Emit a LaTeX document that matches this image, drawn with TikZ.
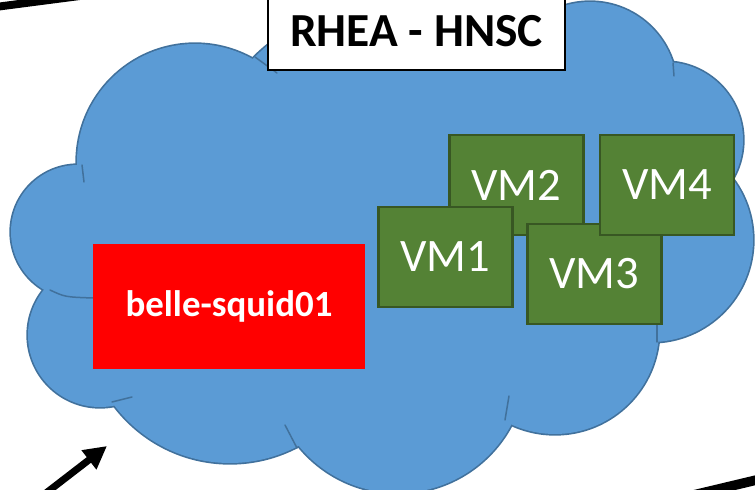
\documentclass[tikz,border=0pt]{standalone}
\usepackage{fontspec}
\setmainfont{Carlito}
\usetikzlibrary{arrows.meta}
\definecolor{cloudfill}{HTML}{5B9BD5}
\definecolor{cloudline}{HTML}{41719C}
\definecolor{vmfill}{HTML}{548235}
\definecolor{vmline}{HTML}{385723}
\begin{document}
\begin{tikzpicture}[x=0.02cm, y=-0.02cm,
    vmbox/.style={draw=vmline, line width=1.2pt, fill=vmfill, text=white,
      minimum width=2.68cm, minimum height=2.0cm, inner sep=0pt,
      font=\fontsize{26.5}{30}\selectfont},
    stub/.style={draw=cloudline, line width=0.85pt, line cap=round},
    link/.style={draw=black, line width=4.5pt}]
\useasboundingbox (0,0) rectangle (755,490);
% cloud: outline first, then the fill on top
\foreach \cx/\cy/\rx/\ry in {195/162/118/118, 78/232/67/67, 100/335/72/72,
    230/318/145/145, 398/365/128/128, 555/330/104/104, 651/240/102/102,
    665/140/78/78, 590/89/87/87, 395/160/185/158}
  \draw[cloudline, line width=1.9pt] (\cx,\cy) ellipse [x radius=\rx, y radius=\ry];
\foreach \cx/\cy/\rx/\ry in {195/162/118/118, 78/232/67/67, 100/335/72/72,
    230/318/145/145, 398/365/128/128, 555/330/104/104, 651/240/102/102,
    665/140/78/78, 590/89/87/87, 395/160/185/158, 400/260/250/130}
  \fill[cloudfill] (\cx,\cy) ellipse [x radius=\rx, y radius=\ry];
\draw[stub] (255,57) -- (277,73);
\draw[stub] (82,165) -- (84,182);
\draw[stub] (50,290) .. controls (65,297) .. (93,298);
\draw[stub] (112,402) -- (132,397);
\draw[stub] (285,425) -- (297,448);
\draw[stub] (509,396) -- (505,420);
\draw[stub] (657,318) -- (657,342);
\draw[stub] (673,63) -- (674,76);
% machines
\node (squid) at (229,306.5) [fill=red, text=white, minimum width=5.44cm, minimum height=2.5cm,
  inner sep=0pt, font=\bfseries\fontsize{21}{25}\selectfont] {belle-squid01};
\node (vm2) at (516.5,185) [vmbox] {VM2};
\node (vm1) at (445.5,257) [vmbox] {VM1};
\node (vm3) at (594.5,274) [vmbox] {VM3};
\node (vm4) at (667,185)   [vmbox] {VM4};
\node (title) at (416.5,31) [draw, line width=1.1pt, fill=white, minimum width=5.94cm,
  minimum height=1.56cm, inner sep=0pt, font=\bfseries\fontsize{27}{30}\selectfont] {RHEA - HNSC};
% links leaving the picture
\coordinate (tlin) at (-20,9);
\coordinate (tlout) at (80,-4);
\coordinate (blin) at (24,510);
\coordinate (blout) at (107,446);
\coordinate (brin) at (660,503);
\coordinate (brout) at (790,472);
\draw[link] (tlin) -- (tlout);
\draw[link, line width=4pt, -{Triangle[length=13pt, width=13pt]}] (blin) -- (blout);
\draw[link, line width=5.5pt] (brin) -- (brout);
\end{tikzpicture}
\end{document}
